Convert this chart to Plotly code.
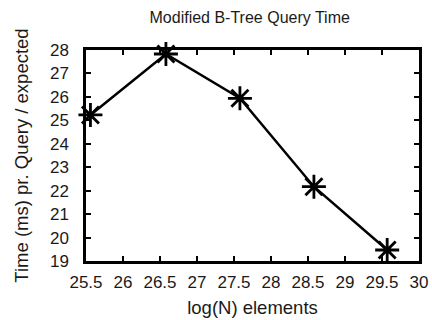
import plotly.graph_objects as go

x_vals = [25.56, 26.58, 27.58, 28.58, 29.57]
y_vals = [25.23, 27.83, 25.94, 22.17, 19.47]
x_ticks = [25.5, 26, 26.5, 27, 27.5, 28, 28.5, 29, 29.5, 30]
x_labels = ["25.5", "26", "26.5", "27", "27.5", "28", "28.5", "29", "29.5", "30"]
y_ticks = list(range(19, 29))

fig = go.Figure()
fig.add_trace(go.Scatter(
    x=x_vals, y=y_vals, mode="lines+markers",
    line=dict(color="black", width=2.5),
    marker=dict(symbol="asterisk-open", size=20, color="black",
                line=dict(color="black", width=2.8)),
    showlegend=False, cliponaxis=False,
))

font = "Liberation Sans, Arial, sans-serif"
fig.update_layout(
    width=432, height=320,
    margin=dict(l=86, r=13, t=50, b=59, autoexpand=False),
    paper_bgcolor="white", plot_bgcolor="white",
    font=dict(family=font, color="#1a1a1a", size=17),
    title=dict(text="Modified B-Tree Query Time", x=0.578, xanchor="center",
               y=0.945, yanchor="middle", font=dict(size=16, family=font, color="#1a1a1a")),
    xaxis=dict(range=[25.5, 30], tickvals=x_ticks, ticktext=x_labels,
               ticks="inside", ticklen=5, tickwidth=2, tickcolor="black",
               showline=True, linecolor="black", linewidth=2.5, mirror="ticks",
               showgrid=False, zeroline=False, ticklabelstandoff=4,
               title=dict(text="log(N) elements", standoff=10, font=dict(size=18.5)),
               tickfont=dict(size=17)),
    yaxis=dict(range=[19, 28], tickvals=y_ticks,
               ticks="inside", ticklen=5, tickwidth=2, tickcolor="black",
               showline=True, linecolor="black", linewidth=2.5, mirror="ticks",
               showgrid=False, zeroline=False, ticklabelstandoff=11,
               title=dict(text="Time (ms) pr. Query / expected", standoff=17, font=dict(size=18.5)),
               tickfont=dict(size=17)),
)

fig.write_html("out.html")
